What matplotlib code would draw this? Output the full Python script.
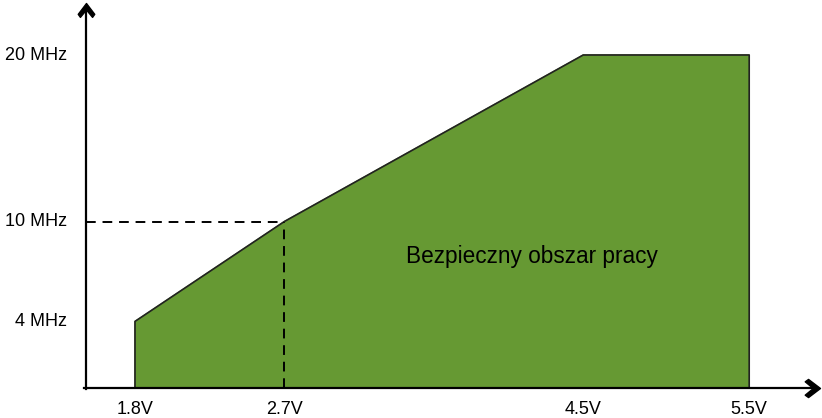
import matplotlib
matplotlib.use('Agg')
import matplotlib.pyplot as plt
from matplotlib.path import Path

plt.rcParams['font.family'] = ['Liberation Sans', 'DejaVu Sans']

# punkty granicy obszaru pracy (napiecie [V], czestotliwosc [MHz])
volts = [1.8, 1.8, 2.7, 4.5, 5.5, 5.5]
freqs = [0, 4, 10, 20, 20, 0]

xticks = [1.8, 2.7, 4.5, 5.5]
xlabels = ['1.8V', '2.7V', '4.5V', '5.5V']
yticks = [4, 10, 20]
ylabels = ['4 MHz', '10 MHz', '20 MHz']

# przeliczenie pikseli -> dane (166 px/V, 16.65 px/MHz)
px_v = 166.0
px_f = 16.65
x0_pix, y0_pix = 135, 388   # 1.8V, 0 MHz

fig = plt.figure(figsize=(8.22, 4.18), dpi=100)
ax = fig.add_axes([0, 0, 1, 1])
ax.set_xlim(1.8 - x0_pix / px_v, 1.8 + (822 - x0_pix) / px_v)
ax.set_ylim(-(418 - y0_pix) / px_f, y0_pix / px_f)
ax.axis('off')

green = '#669933'
ax.fill(volts, freqs, color=green, zorder=1)
ax.plot(volts, freqs, color='#222222', lw=1.2, zorder=2)

x_axis = 1.8 - (135 - 86) / px_v
y_top = (388 - 3) / px_f
x_right = 1.8 + (820 - 135) / px_v

# dashed guides
ax.plot([x_axis, 2.7], [10, 10], color='black', lw=1.4, ls=(0, (5, 3.5)), zorder=3)
ax.plot([2.7, 2.7], [0, 10], color='black', lw=1.4, ls=(0, (5, 3.5)), zorder=3)

# axes lines
ax.plot([x_axis - 0.015, x_right - 0.03], [0, 0], color='black', lw=1.6, zorder=4)
ax.plot([x_axis, x_axis], [-0.08, y_top - 0.3], color='black', lw=1.6, zorder=4)

# chevron arrow heads (tip at origin)
head_r = [(0, 0), (-12.5, 9.5), (-16, 7), (-7.5, 0), (-16, -7), (-12.5, -9.5), (0, 0)]
head_u = [(p[1], p[0]) for p in head_r]
ax.plot([x_right], [0], marker=Path(head_r, closed=True), markersize=22,
        color='black', markeredgewidth=1.0, zorder=5)
ax.plot([x_axis], [y_top], marker=Path(head_u, closed=True), markersize=20,
        color='black', markeredgewidth=1.0, zorder=5)

for v, lab in zip(xticks, xlabels):
    ax.text(v, -22 / px_f, lab, ha='center', va='center', fontsize=13)
for f, lab in zip(yticks, ylabels):
    ax.text(1.8 - (135 - 67) / px_v, f, lab, ha='right', va='center', fontsize=13)

ax.text(1.8 + (532 - 135) / px_v, (388 - 256) / px_f, 'Bezpieczny obszar pracy',
        ha='center', va='center', fontsize=16.3)

fig.savefig('out.png', dpi=100)
